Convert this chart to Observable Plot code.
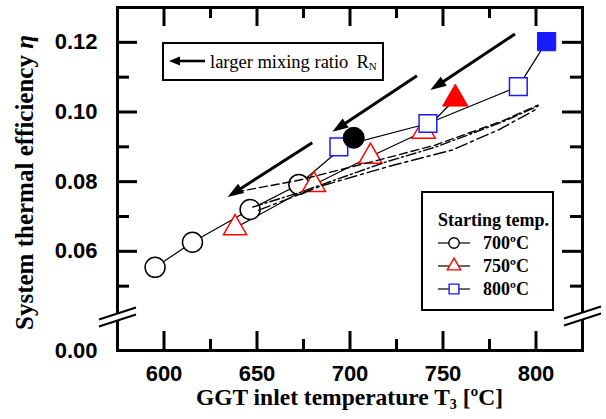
<!DOCTYPE html>
<html><head><meta charset="utf-8">
<script src="https://cdn.jsdelivr.net/npm/d3@7"></script>
<script src="https://cdn.jsdelivr.net/npm/@observablehq/plot@0.6"></script>
<style>
html,body{margin:0;padding:0;background:#fff;}
#wrap{position:relative;width:606px;height:419px;overflow:hidden;background:#fff;}
#wrap > svg{position:absolute;left:0;top:0;}
.box{position:absolute;box-sizing:border-box;border:2px solid #000;background:#fff;}
.box svg{position:absolute;left:0;top:0;}
</style></head><body>
<div id="wrap"></div>
<script>
// ---------------- data ----------------
const seriesNames = ["700ºC", "750ºC", "800ºC"];
const seriesColors = ["#000000", "#ff0000", "#1a1aff"];
const seriesSymbols = ["circle", "triangle", "square"];
// first point of each list: R_N = 0 (filled marker), then larger mixing ratio
const t700X = [702.0, 672.5, 646.3, 615.3, 595.2];
const t700Y = [0.0926, 0.0792, 0.0720, 0.0626, 0.0554];
const t750X = [756.6, 739.6, 711.0, 680.6, 638.2];
const t750Y = [0.1038, 0.0944, 0.0872, 0.0791, 0.0667];
const t800X = [805.7, 790.5, 741.9, 694.0];
const t800Y = [0.1202, 0.1073, 0.0967, 0.0900];
// curves without markers
const dashX = [638.6, 672.4, 719.0, 745.8, 781.8, 801.1];
const dashY = [0.0770, 0.0804, 0.0867, 0.0905, 0.0974, 0.1020];
const dashDotX = [647.7, 673.5, 719.0, 745.8, 781.8, 801.1];
const dashDotY = [0.0727, 0.0770, 0.0856, 0.0899, 0.0971, 0.1017];
const dashDot2X = [650.9, 684.2, 721.7, 755.0, 779.6, 799.5];
const dashDot2Y = [0.0718, 0.0787, 0.0845, 0.0891, 0.0948, 0.1006];
// arrows (tail -> tip)
const arrowX1 = [736.0, 788.7, 679.7];
const arrowY1 = [0.1104, 0.1224, 0.0912];
const arrowX2 = [690.5, 743.2, 634.2];
const arrowY2 = [0.0943, 0.1063, 0.0756];
// axes
const xMajor = [600, 650, 700, 750, 800];
const xMinor = [625, 675, 725, 775];
const xTickLabels = ["600", "650", "700", "750", "800"];
const yMajor = [0.06, 0.08, 0.10, 0.12];
const yMinor = [0.05, 0.07, 0.09, 0.11];
const yLabelValues = [0.00, 0.06, 0.08, 0.10, 0.12];
const yTickLabels = ["0.00", "0.06", "0.08", "0.10", "0.12"];
const annotationText = "larger mixing ratio";
const legendTitle = "Starting temp.";

// ---------------- layout ----------------
const W = 606, H = 419, mL = 117, mR = 24, mT = 7, mB = 69;
const innerW = W - mL - mR, innerH = H - mT - mB;
const xDomain = [575, 825];
const yBreak = 0.041;
const yDomain = [0, yBreak, 0.13];
const yRange = [H - mB, H - mB - 33, mT];
const xPix = d3.scaleLinear().domain(xDomain).range([mL, W - mR]);
const yPix = d3.scaleLinear().domain(yDomain).range(yRange);

const mk = (xs, ys, k) => xs.map((x, i) => ({x, y: ys[i], k, filled: i === 0}));
const series = [mk(t700X, t700Y, 0), mk(t750X, t750Y, 1), mk(t800X, t800Y, 2)];
const zip = (xs, ys) => xs.map((x, i) => ({x, y: ys[i]}));

const openR = {circle: 10, triangle: 8.6, square: 10};
const filledR = {circle: 10.5, triangle: 9.4, square: 10.3};

const arrows = arrowX1.map((x1, i) => {
  const px1 = xPix(x1), py1 = yPix(arrowY1[i]), px2 = xPix(arrowX2[i]), py2 = yPix(arrowY2[i]);
  const len = Math.hypot(px2 - px1, py2 - py1);
  const f = 1 - 8 / len;
  return {
    x1, y1: arrowY1[i], x2: arrowX2[i], y2: arrowY2[i],
    xs: x1 + (arrowX2[i] - x1) * f, ys: arrowY1[i] + (arrowY2[i] - arrowY1[i]) * f,
    rot: Math.atan2(px2 - px1, -(py2 - py1)) * 180 / Math.PI
  };
});
const headSymbol = {draw(ctx) { const L = 16, w = 11; ctx.moveTo(0, 0); ctx.lineTo(-w / 2, L); ctx.lineTo(w / 2, L); ctx.closePath(); }};

const MAJ = 19, MIN = 11;
const tickStyle = {stroke: "#000", strokeWidth: 3};
const sans = "'Liberation Sans', Arial, sans-serif";
const serif = "'Liberation Serif', 'Times New Roman', serif";

const marks = [
  Plot.ruleX(xMajor, {x: d => d, insetTop: innerH - MAJ, ...tickStyle}),
  Plot.ruleX(xMinor, {x: d => d, insetTop: innerH - MIN, ...tickStyle}),
  Plot.ruleX(xMajor, {x: d => d, insetBottom: innerH - MAJ, ...tickStyle}),
  Plot.ruleX(xMinor, {x: d => d, insetBottom: innerH - MIN, ...tickStyle}),
  Plot.ruleY(yMajor, {y: d => d, insetRight: innerW - 20, ...tickStyle}),
  Plot.ruleY(yMinor, {y: d => d, insetRight: innerW - 12, ...tickStyle}),
  Plot.ruleY(yMajor, {y: d => d, insetLeft: innerW - 20, ...tickStyle}),
  Plot.ruleY(yMinor, {y: d => d, insetLeft: innerW - 12, ...tickStyle}),
];
series.forEach(s => marks.push(Plot.line(s, {x: "x", y: "y", stroke: "#000", strokeWidth: 1.2})));
series.forEach((s, k) => marks.push(Plot.dot(s.filter(d => !d.filled), {
  x: "x", y: "y", symbol: seriesSymbols[k], r: openR[seriesSymbols[k]],
  stroke: seriesColors[k], fill: "white", strokeWidth: 1.5
})));
marks.push(
  Plot.line(zip(dashX, dashY), {x: "x", y: "y", stroke: "#000", strokeWidth: 1.4, strokeDasharray: "8,4"}),
  Plot.line(zip(dashDotX, dashDotY), {x: "x", y: "y", stroke: "#000", strokeWidth: 1.4, strokeDasharray: "10,3,2,3"}),
  Plot.line(zip(dashDot2X, dashDot2Y), {x: "x", y: "y", stroke: "#000", strokeWidth: 1.4, strokeDasharray: "12,4,3,4"})
);
series.forEach((s, k) => marks.push(Plot.dot(s.filter(d => d.filled), {
  x: "x", y: "y", symbol: seriesSymbols[k], r: filledR[seriesSymbols[k]],
  stroke: seriesColors[k], fill: seriesColors[k], strokeWidth: 1
})));
marks.push(
  Plot.link(arrows, {x1: "x1", y1: "y1", x2: "xs", y2: "ys", stroke: "#000", strokeWidth: 3}),
  Plot.dot(arrows, {x: "x2", y: "y2", symbol: headSymbol, rotate: "rot", fill: "#000", stroke: "none", r: 5}),
  Plot.text(xMajor, {x: d => d, text: (d, i) => xTickLabels[i], frameAnchor: "bottom", dy: 23, lineAnchor: "middle",
    fontSize: 22, fontWeight: "bold", fontFamily: sans, fill: "#000"}),
  Plot.text(yLabelValues, {y: d => d, text: (d, i) => yTickLabels[i], frameAnchor: "left", dx: -20, textAnchor: "end", lineAnchor: "middle",
    fontSize: 22, fontWeight: "bold", fontFamily: sans, fill: "#000"}),
  Plot.frame({stroke: "#000", strokeWidth: 3})
);

const plot = Plot.plot({
  width: W, height: H, marginLeft: mL, marginRight: mR, marginTop: mT, marginBottom: mB,
  x: {type: "linear", domain: xDomain, range: [mL, W - mR], axis: null},
  y: {type: "linear", domain: yDomain, range: yRange, axis: null, clamp: false},
  style: {background: "white", overflow: "visible"},
  marks
});
const wrap = document.getElementById("wrap");
wrap.appendChild(plot);

// axis breaks, titles
const svg = d3.select(plot);
function brk(cx, cy) {
  const g = svg.append("g");
  const a = [cx - 18, cy + 6], b = [cx + 19, cy - 6], o = 3.5;
  g.append("path").attr("d", `M${a[0]},${a[1] - o}L${b[0]},${b[1] - o}L${b[0]},${b[1] + o}L${a[0]},${a[1] + o}Z`).attr("fill", "white");
  [-o, o].forEach(d => g.append("line").attr("x1", a[0]).attr("y1", a[1] + d).attr("x2", b[0]).attr("y2", b[1] + d)
    .attr("stroke", "#000").attr("stroke-width", 2));
}
brk(mL, yPix(yBreak));
brk(W - mR, yPix(yBreak) - 1);

const xt = svg.append("text").attr("x", (mL + W - mR) / 2).attr("y", 405).attr("text-anchor", "middle")
  .attr("font-family", serif).attr("font-weight", "bold").attr("font-size", 23.5).attr("fill", "#000");
xt.append("tspan").text("GGT inlet temperature T");
xt.append("tspan").attr("font-size", 14).attr("dy", 4).text("3");
xt.append("tspan").attr("dy", -4).text(" [ºC]");

const yt = svg.append("text").attr("transform", `translate(33,${(mT + H - mB) / 2 + 4}) rotate(-90)`).attr("text-anchor", "middle")
  .attr("font-family", serif).attr("font-weight", "bold").attr("font-size", 25).attr("fill", "#000");
yt.append("tspan").text("System thermal efficiency ");
yt.append("tspan").attr("font-style", "italic").text("η");

// annotation box
const ann = d3.select(wrap).append("div").attr("class", "box")
  .style("left", "162px").style("top", "42px").style("width", "222px").style("height", "39px");
const as = ann.append("svg").attr("width", 218).attr("height", 35);
as.append("line").attr("x1", 41).attr("y1", 17).attr("x2", 14).attr("y2", 17).attr("stroke", "#000").attr("stroke-width", 2.6);
as.append("path").attr("d", "M5,17L16,12.5L16,21.5Z").attr("fill", "#000");
const at = as.append("text").attr("x", 46).attr("y", 24).attr("font-family", serif).attr("font-size", 18.5).attr("fill", "#000");
at.append("tspan").text(annotationText);
at.append("tspan").attr("dx", 8).text("R");
at.append("tspan").attr("font-size", 11).attr("dy", 2).text("N");

// legend
const leg = d3.select(wrap).append("div").attr("class", "box")
  .style("left", "421px").style("top", "191px").style("width", "133px").style("height", "120px");
const ls = leg.append("svg").attr("width", 129).attr("height", 116);
ls.append("text").attr("x", 15).attr("y", 33).text(legendTitle)
  .attr("font-family", serif).attr("font-weight", "bold").attr("font-size", 18).attr("fill", "#000");
const legSym = {circle: d3.symbolCircle, triangle: d3.symbolTriangle, square: d3.symbolSquare};
const legR = {circle: 5.2, triangle: 5, square: 5.5};
seriesNames.forEach((name, k) => {
  const cy = 50 + 23 * k;
  ls.append("line").attr("x1", 15).attr("x2", 47).attr("y1", cy).attr("y2", cy).attr("stroke", "#000").attr("stroke-width", 1.2);
  const r = legR[seriesSymbols[k]];
  ls.append("path").attr("transform", `translate(31,${cy})`)
    .attr("d", d3.symbol(legSym[seriesSymbols[k]], r * r * Math.PI)())
    .attr("fill", "white").attr("stroke", seriesColors[k]).attr("stroke-width", 1.4);
  ls.append("text").attr("x", 60).attr("y", cy + 6).text(name)
    .attr("font-family", serif).attr("font-weight", "bold").attr("font-size", 18).attr("fill", "#000");
});
</script>
</body></html>
